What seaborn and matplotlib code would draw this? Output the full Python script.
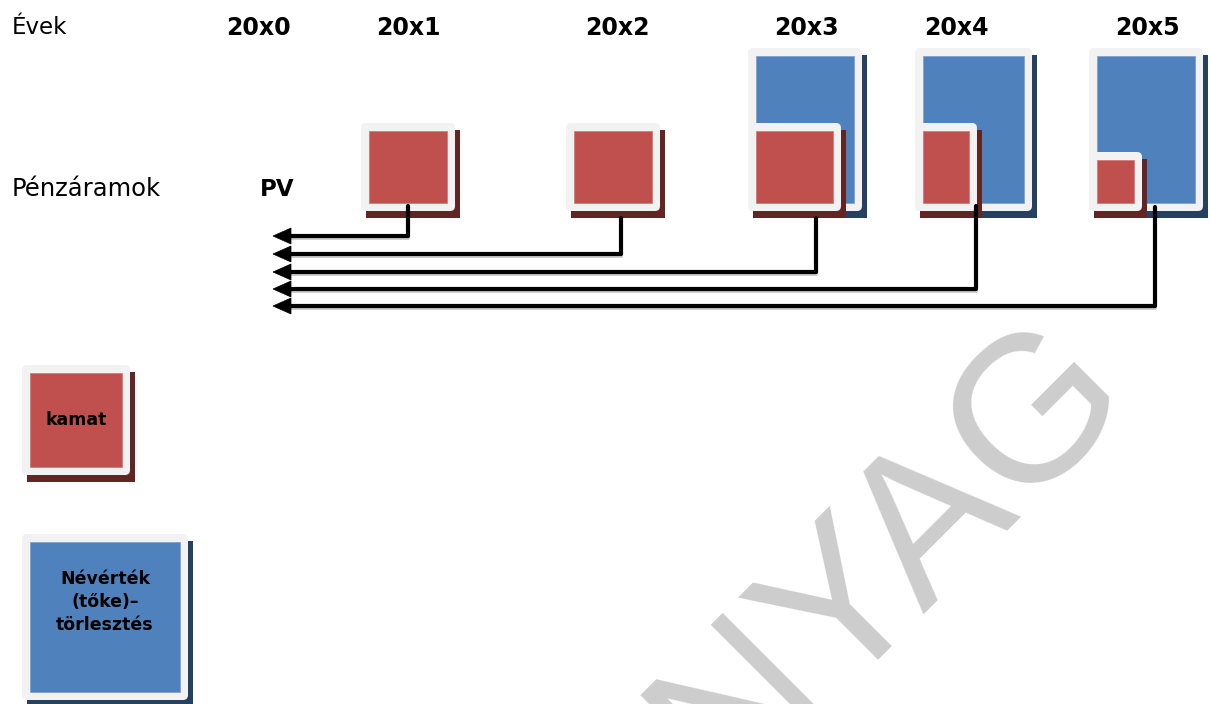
import matplotlib
matplotlib.use("Agg")
import matplotlib.pyplot as plt
from matplotlib.patches import FancyBboxPatch, Rectangle, Polygon
import pandas as pd
import seaborn as sns

# ---- content -------------------------------------------------------------
years = ["20x0", "20x1", "20x2", "20x3", "20x4", "20x5"]
row_labels = ["Évek", "Pénzáramok"]
pv_label = "PV"
# interest payment (width, height) for the payment years 20x1..20x5
interest_w = [78, 78, 77, 46, 37]
interest_h = [72, 72, 72, 72, 43]
# face value (principal) repayment for the payment years 20x1..20x5
principal_w = [0, 0, 98, 101, 98]
principal_h = [0, 0, 147, 147, 147]
legend_labels = ["kamat", "Névérték\n(tőke)–\ntörlesztés"]
legend_w = [92, 150]
legend_h = [94, 150]
watermark = "TANANYAG"

# ---- layout (pixel space) -------------------------------------------------
W, H = 1211, 704
year_label_x = [258, 408, 617, 806, 956, 1147]
label_y = 28
flow_row_y = 189
box_left = [369, 574, 756, 923, 1097]
box_bottom = 203
flow_x = [408, 621, 816, 976, 1155]
flow_start = [206, 218, 218, 206, 207]
flow_y = [236, 254, 272, 289, 306]
arrow_tip, arrow_back, arrow_half = 273, 290, 8
legend_left = [30, 30]
legend_top = [373, 542]

RED, RED_SH = "#C0504D", "#632523"
BLUE, BLUE_SH = "#4F81BD", "#254061"
FRAME = "#F2F2F2"
BORDER = 8
SHADOW = (5, 7)

sns.set_theme(style="white")
plt.rcParams["font.family"] = ["DejaVu Sans"]
plt.rcParams["text.color"] = "black"

fig = plt.figure(figsize=(W / 100, H / 100), dpi=100)
ax = fig.add_axes([0, 0, 1, 1])


def framed_box(left, top, w, h, fill, shadow, z):
    """Shadowed, rounded light frame with a solid coloured panel inside."""
    fx, fy = left - BORDER, top - BORDER
    fw, fh = w + 2 * BORDER, h + 2 * BORDER
    ax.add_patch(Rectangle((fx + SHADOW[0], fy + SHADOW[1]), fw, fh,
                           facecolor=shadow, edgecolor="none", zorder=z))
    ax.add_patch(FancyBboxPatch((fx, fy), fw, fh,
                                boxstyle="round,pad=0,rounding_size=5",
                                facecolor=FRAME, edgecolor="none", zorder=z + 0.1))
    ax.add_patch(Rectangle((left, top), w, h, facecolor=fill,
                           edgecolor="#D47A78" if fill == RED else "#7FA2CF",
                           linewidth=0.6, zorder=z + 0.2))


# principal repayments first, interest panels on top of them
for i, left in enumerate(box_left):
    if principal_w[i] > 0:
        framed_box(left, box_bottom - principal_h[i], principal_w[i],
                   principal_h[i], BLUE, BLUE_SH, 2)
for i, left in enumerate(box_left):
    framed_box(left, box_bottom - interest_h[i], interest_w[i],
               interest_h[i], RED, RED_SH, 3)

# discounting paths back to the present value
rows = []
for i in range(len(flow_x)):
    for px, py in [(flow_x[i], flow_start[i]), (flow_x[i], flow_y[i]),
                   (arrow_back, flow_y[i])]:
        rows.append({"flow": i, "x": px, "y": py})
paths = pd.DataFrame(rows)
shade = paths.assign(y=paths["y"] + 2)
sns.lineplot(data=shade, x="x", y="y", units="flow", estimator=None, sort=False,
             color="#C8C8C8", linewidth=2, ax=ax, legend=False, zorder=4)
sns.lineplot(data=paths, x="x", y="y", units="flow", estimator=None, sort=False,
             color="black", linewidth=3, ax=ax, legend=False, zorder=5)
for y in flow_y:
    ax.add_patch(Polygon([(arrow_tip, y), (arrow_back + 1, y - arrow_half),
                          (arrow_back + 1, y + arrow_half)],
                         closed=True, facecolor="black", edgecolor="black",
                         linewidth=0.5, zorder=6))

# texts
ax.text(12, label_y, row_labels[0], fontsize=16.5, ha="left", va="center")
ax.text(12, flow_row_y, row_labels[1], fontsize=17.5, ha="left", va="center")
ax.text(260, flow_row_y, pv_label, fontsize=16.5, fontweight="bold",
        ha="left", va="center")
for x, lab in zip(year_label_x, years):
    ax.text(x, label_y, lab, fontsize=17, fontweight="bold",
            ha="center", va="center")

# legend panels
legend_fill = [(RED, RED_SH), (BLUE, BLUE_SH)]
for i, lab in enumerate(legend_labels):
    fill, sh = legend_fill[i]
    framed_box(legend_left[i], legend_top[i], legend_w[i], legend_h[i], fill, sh, 3)
    cy = legend_top[i] + legend_h[i] / 2 if i == 0 else legend_top[i] + 60
    ax.text(legend_left[i] + legend_w[i] / 2, cy, lab, fontsize=12.5,
            fontweight="bold", ha="center", va="center", linespacing=1.35,
            zorder=8)

# watermark
ax.text(1136, 398, watermark, fontsize=150, color="#CDCDCD", rotation=45,
        rotation_mode="anchor", ha="right", va="baseline",
        family="Liberation Sans", zorder=0)

ax.set_xlim(0, W)
ax.set_ylim(H, 0)
ax.set_axis_off()
fig.savefig("out.png", dpi=100, facecolor="white")
